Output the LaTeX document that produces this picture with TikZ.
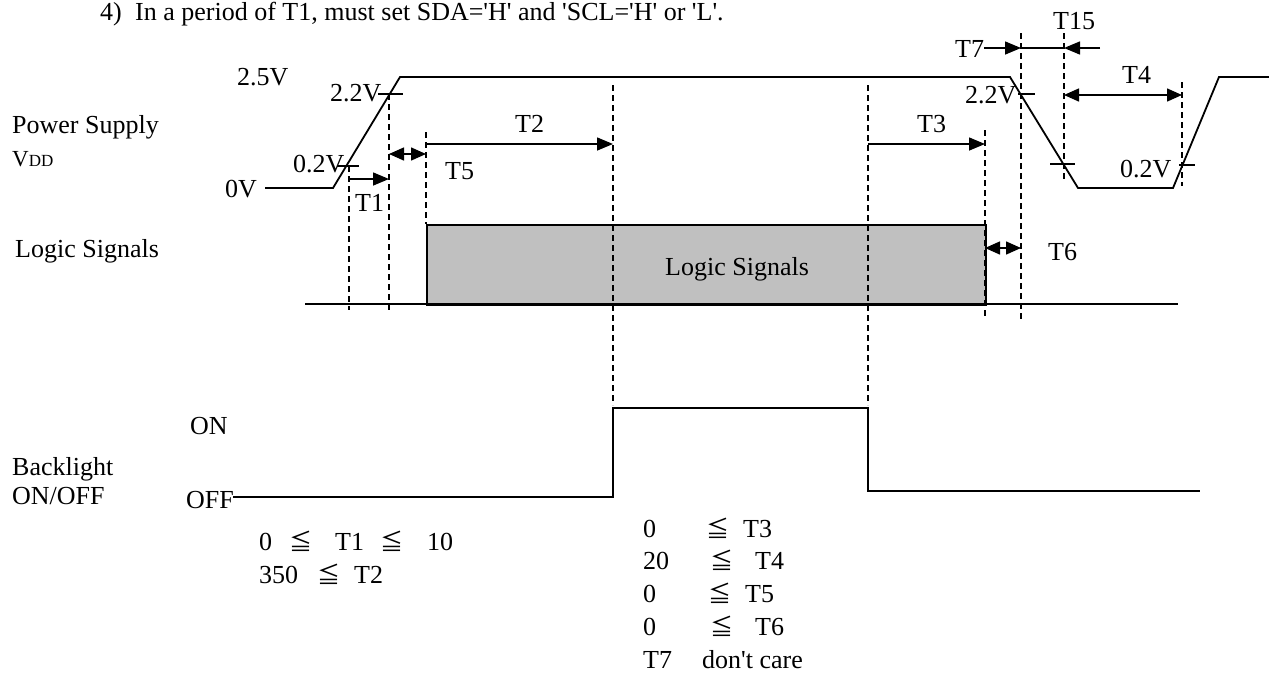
\documentclass[tikz,border=0pt]{standalone}
\usepackage{fontspec}
\newfontfamily\tnr{Liberation Serif}
\newfontfamily\symf{Noto Sans CJK JP}
\usetikzlibrary{arrows.meta}
\begin{document}
\begin{tikzpicture}[x=1pt,y=-1pt,
  wave/.style={line width=1.8pt},
  dline/.style={dash pattern=on 6pt off 4pt, line width=1.4pt},
  tick/.style={line width=1.4pt},
  arr/.style={line width=1.5pt,-{Triangle[length=16pt,width=13pt]}},
  darr/.style={line width=1.5pt,{Triangle[length=15pt,width=13pt]}-{Triangle[length=15pt,width=13pt]}},
  lbl/.style={font=\tnr\fontsize{26}{30}\selectfont, inner sep=0pt, anchor=base west},
  le/.style={font=\symf\fontsize{23}{26}\selectfont, inner sep=0pt, anchor=base west}]
\useasboundingbox (0,0) rectangle (1269,673);
% ---- header
\node[lbl] (h1) at (100,20) {4)};
\node[lbl] (h2) at (135,20) {In a period of T1, must set SDA='H' and  'SCL='H' or 'L'.};
% ---- left labels
\node[lbl] (ps) at (12,133) {Power Supply};
\node[lbl] (vdd) at (12,166) {\fontsize{23}{26}\selectfont V\fontsize{17}{20}\selectfont DD};
\node[lbl] (ls) at (15,257) {Logic Signals};
\node[lbl] (bl) at (12,475) {Backlight};
\node[lbl] (blo) at (12,504) {ON/OFF};
\node[lbl] (on) at (190,434) {ON};
\node[lbl] (off) at (186,508) {OFF};
% ---- VDD waveform
\coordinate (v0) at (265,188); \coordinate (v1) at (333,188);
\coordinate (v2) at (400,77);  \coordinate (v3) at (1010,77);
\coordinate (v4) at (1078,188); \coordinate (v5) at (1173,188);
\coordinate (v6) at (1219,77); \coordinate (v7) at (1269,77);
\draw[wave] (v0) -- (v1) -- (v2) -- (v3) -- (v4) -- (v5) -- (v6) -- (v7);
\node[lbl] (l25) at (237,85) {2.5V};
\node[lbl] (l22a) at (330,101) {2.2V};
\node[lbl] (l02a) at (293,172) {0.2V};
\node[lbl] (l0) at (225,197) {0V};
\node[lbl] (l22b) at (965,103) {2.2V};
\node[lbl] (l02b) at (1120,177) {0.2V};
% ticks
\coordinate (ta1) at (378,94); \coordinate (ta2) at (403,94);
\coordinate (tb1) at (337,166); \coordinate (tb2) at (359,166);
\coordinate (tc1) at (1018,94); \coordinate (tc2) at (1035,94);
\coordinate (td1) at (1050,164); \coordinate (td2) at (1075,164);
\coordinate (te1) at (1179,165); \coordinate (te2) at (1195,165);
\draw[tick] (ta1) -- (ta2); \draw[tick] (tb1) -- (tb2);
\draw[tick] (tc1) -- (tc2); \draw[tick] (td1) -- (td2);
\draw[tick] (te1) -- (te2);
% ---- logic signals
\node[draw, line width=1.8pt, fill={rgb,255:red,192;green,192;blue,192}, minimum width=559pt, minimum height=80pt, inner sep=0pt, anchor=north west] (box) at (426,224) {};
\node[lbl] (boxl) at (665,275) {Logic Signals};
\coordinate (lb0) at (305,304); \coordinate (lb1) at (1178,304);
\draw[wave] (lb0) -- (lb1);
% ---- backlight
\coordinate (b0) at (233,497); \coordinate (b1) at (613,497);
\coordinate (b2) at (613,408); \coordinate (b3) at (868,408);
\coordinate (b4) at (868,491); \coordinate (b5) at (1200,491);
\draw[wave] (b0) -- (b1) -- (b2) -- (b3) -- (b4) -- (b5);
% ---- dashed guides
\coordinate (d1a) at (349,166); \coordinate (d1b) at (349,310);
\coordinate (d2a) at (389,94);  \coordinate (d2b) at (389,310);
\coordinate (d3a) at (426,132); \coordinate (d3b) at (426,224);
\coordinate (d4a) at (613,85);  \coordinate (d4b) at (613,405);
\coordinate (d5a) at (868,85);  \coordinate (d5b) at (868,405);
\coordinate (d6a) at (985,130); \coordinate (d6b) at (985,318);
\coordinate (d7a) at (1021,33); \coordinate (d7b) at (1021,320);
\coordinate (d8a) at (1064,33); \coordinate (d8b) at (1064,180);
\coordinate (d9a) at (1182,82); \coordinate (d9b) at (1182,186);
\foreach \d in {d1,d2,d3,d4,d5,d6,d7,d8,d9} \draw[dline] (\d a) -- (\d b);
% ---- timing arrows
\coordinate (a1a) at (349,179); \coordinate (a1b) at (389,179);
\draw[arr] (a1a) -- (a1b);
\node[lbl] (t1) at (355,211) {T1};
\coordinate (a5a) at (389,154); \coordinate (a5b) at (426,154);
\draw[darr] (a5a) -- (a5b);
\node[lbl] (t5) at (445,179) {T5};
\coordinate (a2a) at (426,144); \coordinate (a2b) at (613,144);
\draw[arr] (a2a) -- (a2b);
\node[lbl] (t2) at (515,132) {T2};
\coordinate (a3a) at (868,144); \coordinate (a3b) at (985,144);
\draw[arr] (a3a) -- (a3b);
\node[lbl] (t3) at (917,132) {T3};
\coordinate (a6a) at (985,248); \coordinate (a6b) at (1021,248);
\draw[darr] (a6a) -- (a6b);
\node[lbl] (t6) at (1048,260) {T6};
\node[lbl] (t7) at (955,57) {T7};
\coordinate (a7b) at (1021,48); \coordinate (a15b) at (1064,48); \coordinate (a15a) at (1100,48);
\draw[arr] (t7.east |- a7b) -- (a7b);
\draw[line width=1.5pt] (a7b) -- (a15b);
\draw[arr] (a15a) -- (a15b);
\node[lbl] (t15) at (1053,29) {T15};
\coordinate (a4a) at (1064,95); \coordinate (a4b) at (1182,95);
\draw[darr] (a4a) -- (a4b);
\node[lbl] (t4) at (1122,83) {T4};
% ---- conditions
\node[lbl] (e1a) at (259,550) {0};
\node[le]  (e1b) at (289,550) {≦};
\node[lbl] (e1c) at (335,550) {T1};
\node[le]  (e1d) at (380,550) {≦};
\node[lbl] (e1e) at (427,550) {10};
\node[lbl] (e2a) at (259,583) {350};
\node[le]  (e2b) at (317,583) {≦};
\node[lbl] (e2c) at (354,583) {T2};
\node[lbl] (r1a) at (643,537) {0};
\node[le]  (r1b) at (706,537) {≦};
\node[lbl] (r1c) at (743,537) {T3};
\node[lbl] (r2a) at (643,569) {20};
\node[le]  (r2b) at (710,569) {≦};
\node[lbl] (r2c) at (755,569) {T4};
\node[lbl] (r3a) at (643,602) {0};
\node[le]  (r3b) at (708,602) {≦};
\node[lbl] (r3c) at (745,602) {T5};
\node[lbl] (r4a) at (643,635) {0};
\node[le]  (r4b) at (710,635) {≦};
\node[lbl] (r4c) at (755,635) {T6};
\node[lbl] (r5a) at (643,668) {T7};
\node[lbl] (r5b) at (702,668) {don't care};
\end{tikzpicture}
\end{document}
